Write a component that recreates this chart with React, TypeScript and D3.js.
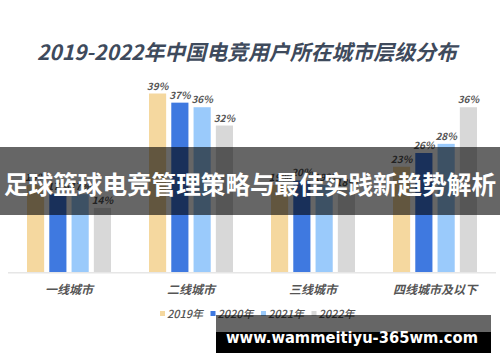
import React from 'react';
import * as d3 from 'd3';

const categories = ['一线城市', '二线城市', '三线城市', '四线城市及以下'];
const years = ['2019年', '2020年', '2021年', '2022年'];
const share2019 = [19, 39, 19, 23];
const share2020 = [17, 37, 20, 26];
const share2021 = [17, 36, 19, 28];
const share2022 = [14, 32, 18, 36];
const colors = ['#f5d89f', '#3f79e0', '#9acafb', '#d8d8d8'];

const title = '2019-2022年中国电竞用户所在城市层级分布';
const banner = '足球篮球电竞管理策略与最佳实践新趋势解析';
const site = 'www.wammeitiyu-365wm.com';

const W = 500;
const H = 362;
const cjk = '"Noto Sans CJK SC", "Noto Sans", sans-serif';

export default function App() {
  const series = [share2019, share2020, share2021, share2022];
  const baseY = 272;

  const x0 = d3.scaleBand<string>().domain(categories).range([8, 496]).padding(0);
  const x1 = d3
    .scaleBand<string>()
    .domain(years)
    .range([19, x0.bandwidth() - 19])
    .paddingInner(0.23)
    .paddingOuter(0);
  const y = d3.scaleLinear().domain([0, 39]).range([baseY, 93.5]);

  const legendX = d3.scaleBand<string>().domain(years).range([160, 362]);

  return (
    <svg
      width={W}
      height={H}
      style={{ position: 'absolute', left: 0, top: 0, display: 'block', background: '#fff' }}
    >
      <text
        x={247}
        y={60}
        textAnchor="middle"
        fontFamily={cjk}
        fontWeight={700}
        fontStyle="italic"
        fontSize={21}
        fill="#3e4a5c"
        textLength={420}
        lengthAdjust="spacingAndGlyphs"
      >
        {title}
      </text>

      {categories.map((c, i) => (
        <g key={c} transform={`translate(${x0(c)},0)`}>
          {years.map((yr, j) => {
            const v = series[j][i];
            const bx = x1(yr)!;
            return (
              <g key={yr}>
                <rect
                  x={bx}
                  y={y(v)}
                  width={x1.bandwidth()}
                  height={baseY - y(v)}
                  fill={colors[j]}
                />
                <text
                  x={bx + x1.bandwidth() / 2}
                  y={y(v) - 4}
                  textAnchor="middle"
                  fontFamily={cjk}
                  fontStyle="italic"
                  fontWeight={700}
                  fontSize={10}
                  fill="#555"
                >
                  {v}%
                </text>
              </g>
            );
          })}
          <text
            x={x0.bandwidth() / 2}
            y={294}
            textAnchor="middle"
            fontFamily={cjk}
            fontStyle="italic"
            fontWeight={700}
            fontSize={12}
            fill="#555"
          >
            {c}
          </text>
        </g>
      ))}

      <line x1={8} x2={496} y1={baseY + 0.8} y2={baseY + 0.8} stroke="#e6e6e6" strokeWidth={1.5} />

      {years.map((yr, j) => (
        <g key={yr} transform={`translate(${legendX(yr)},314)`}>
          <rect x={0} y={-3} width={5} height={5} fill={colors[j]} />
          <text
            x={7}
            y={4}
            fontFamily={cjk}
            fontStyle="italic"
            fontWeight={500}
            fontSize={11}
            fill="#555"
          >
            {yr}
          </text>
        </g>
      ))}

      <rect x={0} y={147} width={W} height={68} fill="#000" opacity={0.6} />
      <text
        x={250}
        y={194}
        textAnchor="middle"
        fontFamily={cjk}
        fontWeight={700}
        fontSize={25}
        fill="#fff"
        textLength={492}
        lengthAdjust="spacingAndGlyphs"
      >
        {banner}
      </text>

      <rect x={216} y={315} width={275} height={17} fill="#000" opacity={0.6} />
      <rect x={216} y={332} width={275} height={21} fill="#000" />
      <text
        x={352}
        y={343}
        textAnchor="middle"
        fontFamily='"DejaVu Sans", sans-serif'
        fontWeight={700}
        fontSize={15}
        fill="#fff"
        textLength={252}
        lengthAdjust="spacingAndGlyphs"
      >
        {site}
      </text>
    </svg>
  );
}
